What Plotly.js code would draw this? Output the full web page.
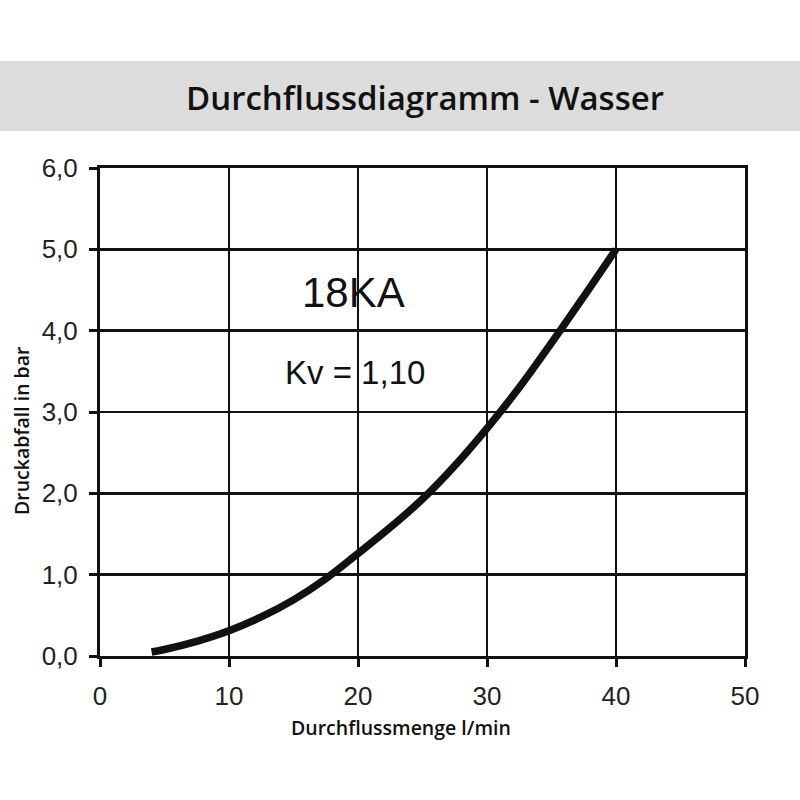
<!DOCTYPE html>
<html>
<head>
<meta charset="utf-8">
<script src="https://cdn.plot.ly/plotly-3.0.1.min.js"></script>
<style>html,body{margin:0;padding:0;background:#fff;}#chart{width:800px;height:800px;}</style>
</head>
<body>
<div id="chart"></div>
<script>
const flow = [4, 5, 7.5, 10, 12.5, 15, 17.5, 20, 22.5, 25, 27.5, 30, 32.5, 35, 37.5, 40];
const pressure = [0.05, 0.08, 0.18, 0.31, 0.48, 0.69, 0.95, 1.26, 1.58, 1.93, 2.34, 2.8, 3.3, 3.85, 4.42, 5.0];
const xTicks = [0, 10, 20, 30, 40, 50];
const yTicks = [0, 1, 2, 3, 4, 5, 6];
const yTickText = ['0,0', '1,0', '2,0', '3,0', '4,0', '5,0', '6,0'];
const chartTitle = 'Durchflussdiagramm - Wasser';
const xTitle = 'Durchflussmenge l/min';
const yTitle = 'Druckabfall in bar';
const modelLabel = '18KA';
const kvLabel = 'Kv = 1,10';

// plot area in pixels: x 100..745, y 168..656
const L = 100, R = 745, T = 168, B = 656;
const px = x => (x - L) / (R - L);
const py = y => (B - y) / (B - T);

const tickFont = {family: 'Liberation Sans, Arial, sans-serif', size: 26, color: '#222'};

Plotly.newPlot('chart', [{
  x: flow, y: pressure, type: 'scatter', mode: 'lines',
  line: {color: '#111', width: 7.5, shape: 'spline', smoothing: 1},
  hoverinfo: 'none'
}], {
  width: 800, height: 800,
  margin: {l: L, r: 800 - R, t: T, b: 800 - B, pad: 0},
  paper_bgcolor: '#fff', plot_bgcolor: '#fff',
  showlegend: false,
  xaxis: {
    range: [0, 50], tickvals: xTicks, ticktext: xTicks.map(String),
    showgrid: true, gridcolor: '#111', gridwidth: 2.5,
    showline: true, linecolor: '#111', linewidth: 3, mirror: true,
    ticks: 'outside', ticklen: 8, tickwidth: 3, tickcolor: '#111',
    zeroline: false, tickfont: tickFont, ticklabelstandoff: 7, fixedrange: true
  },
  yaxis: {
    range: [0, 6], tickvals: yTicks, ticktext: yTickText,
    showgrid: true, gridcolor: '#111', gridwidth: 2.5,
    showline: true, linecolor: '#111', linewidth: 3, mirror: true,
    ticks: 'outside', ticklen: 8, tickwidth: 3, tickcolor: '#111',
    zeroline: false, tickfont: tickFont, ticklabelstandoff: 6, fixedrange: true
  },
  shapes: [{
    type: 'rect', xref: 'paper', yref: 'paper', layer: 'below',
    x0: px(-5), x1: px(805), y0: py(131), y1: py(61),
    fillcolor: '#dcdcdc', line: {width: 0}
  }],
  annotations: [
    {text: chartTitle, xref: 'paper', yref: 'paper', x: px(425), y: py(97),
     xanchor: 'center', yanchor: 'middle', showarrow: false,
     font: {family: 'Open Sans, sans-serif', size: 33, weight: 600, color: '#111'}},
    {text: xTitle, xref: 'paper', yref: 'paper', x: px(401), y: py(727),
     xanchor: 'center', yanchor: 'middle', showarrow: false,
     font: {family: 'Open Sans, sans-serif', size: 19.5, weight: 600, color: '#111'}},
    {text: yTitle, xref: 'paper', yref: 'paper', x: px(21), y: py(431),
     xanchor: 'center', yanchor: 'middle', showarrow: false, textangle: -90,
     font: {family: 'Open Sans, sans-serif', size: 19.5, weight: 600, color: '#111'}},
    {text: modelLabel, xref: 'paper', yref: 'paper', x: px(353), y: py(292),
     xanchor: 'center', yanchor: 'middle', showarrow: false,
     font: {family: 'Liberation Sans, Arial, sans-serif', size: 42, color: '#111'}},
    {text: kvLabel, xref: 'paper', yref: 'paper', x: px(355), y: py(372),
     xanchor: 'center', yanchor: 'middle', showarrow: false,
     font: {family: 'Liberation Sans, Arial, sans-serif', size: 33, color: '#111'}}
  ]
}, {staticPlot: true});
</script>
</body>
</html>
